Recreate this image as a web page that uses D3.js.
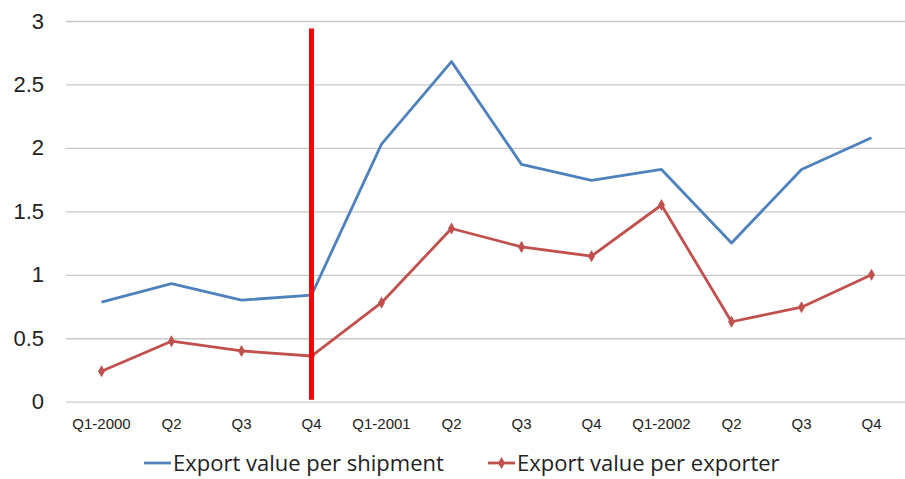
<!DOCTYPE html>
<html>
<head>
<meta charset="utf-8">
<script src="https://cdn.jsdelivr.net/npm/d3@7"></script>
<style>
  body { margin: 0; background: #fff; }
  svg { font-family: "Open Sans", "Liberation Sans", sans-serif; }
</style>
</head>
<body>
<div id="chart"></div>
<script>
// data
const quarters = ["Q1-2000", "Q2", "Q3", "Q4", "Q1-2001", "Q2", "Q3", "Q4", "Q1-2002", "Q2", "Q3", "Q4"];
const perShipment = [0.785, 0.93, 0.80, 0.84, 2.03, 2.68, 1.87, 1.745, 1.83, 1.25, 1.83, 2.08];
const perExporter = [0.24, 0.477, 0.40, 0.36, 0.78, 1.365, 1.22, 1.147, 1.55, 0.63, 0.745, 1.0];
const yTicks = [0, 0.5, 1, 1.5, 2, 2.5, 3];
const seriesNames = ["Export value per shipment", "Export value per exporter"];
const breakIndex = 3;   // red marker at first Q4
const breakTop = 2.94;

const W = 905, H = 479;
const margin = { top: 21, right: 0, bottom: 77, left: 66 };

const svg = d3.select("#chart").append("svg")
    .attr("width", W)
    .attr("height", H);

const idx = d3.range(quarters.length);
const x = d3.scaleBand()
    .domain(idx)
    .range([66.5, 906.5]);
const xc = i => x(i) + x.bandwidth() / 2;
const y = d3.scaleLinear()
    .domain([0, 3])
    .range([H - margin.bottom - 0.3, margin.top]);

// grid
const yAxis = d3.axisLeft(y)
    .tickValues(yTicks)
    .tickSize(-(W - margin.left - margin.right))
    .tickPadding(22)
    .tickFormat(d3.format(""));
svg.append("g")
    .attr("transform", `translate(${margin.left},0)`)
    .call(yAxis)
    .call(g => g.select(".domain").remove())
    .call(g => g.selectAll(".tick line").attr("stroke", "#c8c8c8").attr("stroke-width", 1.3))
    .call(g => g.selectAll(".tick text").attr("fill", "#222").style("font-size", "22px"));

// x labels
const xAxis = d3.axisBottom(x)
    .tickSize(0)
    .tickPadding(17)
    .tickFormat(i => quarters[i]);
svg.append("g")
    .attr("transform", `translate(0,${y(0)})`)
    .call(xAxis)
    .call(g => g.select(".domain").remove())
    .call(g => g.selectAll(".tick text").attr("fill", "#222").style("font-size", "15px"));

const line = d3.line().x((d, i) => xc(i)).y(d => y(d));

svg.append("path")
    .datum(perShipment)
    .attr("fill", "none")
    .attr("stroke", "#4f81bd")
    .attr("stroke-width", 2.8)
    .attr("stroke-linejoin", "round")
    .attr("d", line);

svg.append("path")
    .datum(perExporter)
    .attr("fill", "none")
    .attr("stroke", "#c0504d")
    .attr("stroke-width", 2.8)
    .attr("stroke-linejoin", "round")
    .attr("d", line);

const diamond = d3.symbol().type(d3.symbolDiamond).size(42);
svg.append("g")
    .selectAll("path")
    .data(perExporter)
    .join("path")
    .attr("d", diamond)
    .attr("fill", "#c0504d")
    .attr("transform", (d, i) => `translate(${xc(i)},${y(d)})`);

// red break line
svg.append("line")
    .attr("x1", xc(breakIndex)).attr("x2", xc(breakIndex))
    .attr("y1", y(breakTop)).attr("y2", y(0) - 2)
    .attr("stroke", "#ff0000")
    .attr("stroke-width", 5);

// legend
const legend = svg.append("g").attr("transform", `translate(0,${H - 16})`);
const items = [
  { name: seriesNames[0], color: "#4f81bd", x: 144, marker: false },
  { name: seriesNames[1], color: "#c0504d", x: 488, marker: true }
];
items.forEach(it => {
  const g = legend.append("g").attr("transform", `translate(${it.x},0)`);
  g.append("line").attr("x1", 0).attr("x2", 27).attr("y1", 0).attr("y2", 0)
    .attr("stroke", it.color).attr("stroke-width", 2.8);
  if (it.marker) {
    g.append("path").attr("d", diamond).attr("fill", it.color)
      .attr("transform", "translate(13.5,0)");
  }
  g.append("text").attr("x", 29).attr("y", 0).attr("dy", "0.35em")
    .attr("fill", "#222").style("font-size", "22px").text(it.name);
});
</script>
</body>
</html>
